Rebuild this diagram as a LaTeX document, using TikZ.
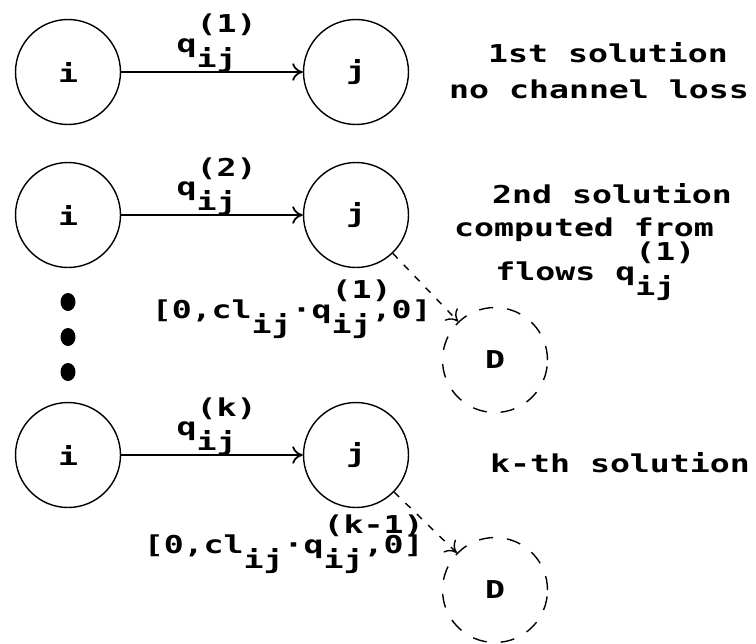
\documentclass[tikz,border=0pt]{standalone}
\usepackage{fontspec}
\setmonofont[FakeStretch=1.35]{DejaVu Sans Mono}
\usetikzlibrary{positioning,arrows.meta}

% superscript over subscript, set in the running font
\newcommand{\supsub}[2]{\rlap{\raisebox{0.8em}{#1}}\raisebox{-0.62em}{#2}}

\begin{document}
\begin{tikzpicture}[x=0.02cm,y=-0.02cm,
  font=\fontsize{14}{17}\selectfont\ttfamily\bfseries,
  circnode/.style={circle,draw,line width=0.8pt,minimum size=2.1cm,inner sep=0pt},
  dnode/.style={circnode,dash pattern=on 8pt off 8pt},
  flowarrow/.style={-{To[length=6pt,width=10pt]},line width=1pt},
  lossarrow/.style={-{To[length=6pt,width=10pt]},line width=0.8pt,dash pattern=on 4pt off 5pt},
  flowlabel/.style={midway,anchor=base,inner sep=0pt,yshift=11pt,xshift=-3pt},
  solnote/.style={anchor=base,inner sep=0pt}]
  \useasboundingbox (0,0) rectangle (756,643);

  % 1st solution
  \node[circnode] (i1) at (68,72) {i};
  \node[circnode] (j1) at (356,72) {j};
  \draw[flowarrow] (i1) -- node[flowlabel] {q\supsub{(1)}{ij}} (j1);
  \node[solnote] (s1a) at (608,62) {1st solution};
  \node[solnote] (s1b) at (599,98) {no channel loss};

  % 2nd solution
  \node[circnode] (i2) at (68,215) {i};
  \node[circnode] (j2) at (356,215) {j};
  \node[dnode] (D2) at (495,360) {D};
  \draw[flowarrow] (i2) -- node[flowlabel] {q\supsub{(2)}{ij}} (j2);
  \draw[lossarrow] (j2) -- (D2);
  \node[anchor=base east,inner sep=0pt] (l2) at (432,318)
    {[0,cl\supsub{}{ij}·q\supsub{(1)}{ij},0]};
  \node[solnote] (s2a) at (612,203) {2nd solution};
  \node[solnote] (s2b) at (584,236) {computed from};
  \node[solnote,anchor=base west] (s2c) at (495,280) {flows q\supsub{(1)}{ij}};

  % dots
  \foreach \y in {302,337,372}
    \fill (68,\y) ellipse (7.5 and 9);

  % k-th solution
  \node[circnode] (i3) at (68,455) {i};
  \node[circnode] (j3) at (356,455) {j};
  \node[dnode] (D3) at (495,590) {D};
  \draw[flowarrow] (i3) -- node[flowlabel] {q\supsub{(k)}{ij}} (j3);
  \draw[lossarrow] (j3) -- (D3);
  \node[anchor=base east,inner sep=0pt] (l3) at (424,553)
    {[0,cl\supsub{}{ij}·q\supsub{(k-1)}{ij},0]};
  \node[solnote] (s3) at (620,472) {k-th solution};
\end{tikzpicture}
\end{document}
